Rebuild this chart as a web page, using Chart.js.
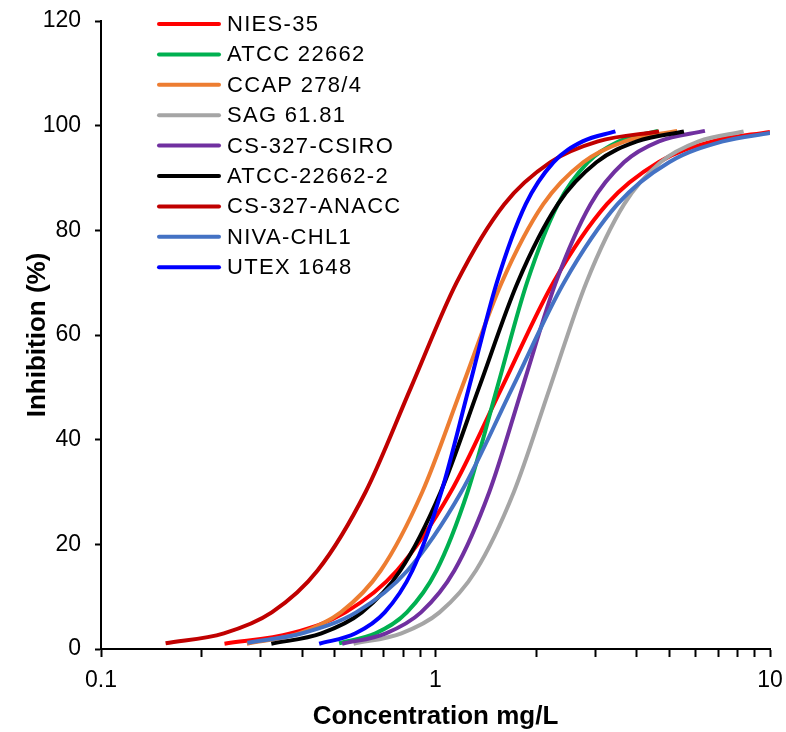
<!DOCTYPE html>
<html>
<head>
<meta charset="utf-8">
<title>Inhibition vs concentration</title>
<script src="https://cdn.jsdelivr.net/npm/chart.js@4.4.1/dist/chart.umd.min.js"></script>
<style>
  html, body { margin: 0; padding: 0; background: #fff; }
  #wrap { width: 786px; height: 732px; }
</style>
</head>
<body>
<div id="wrap"><canvas id="doseChart" width="786" height="732"></canvas></div>
<script>
// values (concentration in mg/L, inhibition in %)
const strainNames = ["NIES-35", "ATCC 22662", "CCAP 278/4", "SAG 61.81", "CS-327-CSIRO",
  "ATCC-22662-2", "CS-327-ANACC", "NIVA-CHL1", "UTEX 1648"];
const strainColors = ["#FF0000", "#00B050", "#ED7D31", "#A5A5A5", "#7030A0",
  "#000000", "#C00000", "#4472C4", "#0000FF"];

const niesX = [0.234, 0.371, 0.538, 0.767, 1.110, 1.58, 2.249, 3.254, 4.641, 6.724, 10];
const niesY = [1, 3, 7, 15, 30, 50, 70, 85, 93, 97, 98.8];

const atccX = [0.515, 0.662, 0.821, 1.007, 1.247, 1.53, 1.877, 2.324, 2.853, 3.535, 4.63];
const atccY = [1.1, 3, 7, 15, 30, 50, 70, 85, 93, 97, 99];

const ccapX = [0.273, 0.391, 0.521, 0.686, 0.913, 1.2, 1.577, 2.1, 2.763, 3.683, 5.28];
const ccapY = [1, 3, 7, 15, 30, 50, 70, 85, 93, 97, 99];

const sagX = [0.569, 0.791, 1.028, 1.321, 1.715, 2.2, 2.823, 3.665, 4.706, 6.116, 8.34];
const sagY = [1, 3, 7, 15, 30, 50, 70, 85, 93, 97, 98.9];

const csiroX = [0.526, 0.711, 0.905, 1.139, 1.448, 1.82, 2.288, 2.908, 3.660, 4.657, 6.39];
const csiroY = [1, 3, 7, 15, 30, 50, 70, 85, 93, 97, 99];

const atcc2X = [0.323, 0.456, 0.602, 0.785, 1.036, 1.35, 1.759, 2.322, 3.028, 4.0, 5.53];
const atcc2Y = [1, 3, 7, 15, 30, 50, 70, 85, 93, 97, 98.9];

const anaccX = [0.156, 0.233, 0.324, 0.444, 0.618, 0.845, 1.156, 1.606, 2.202, 3.061, 4.66];
const anaccY = [1.1, 3, 7, 15, 30, 50, 70, 85, 93, 97, 98.9];

const nivaX = [0.274, 0.400, 0.579, 0.825, 1.194, 1.70, 2.420, 3.501, 4.993, 7.235, 10];
const nivaY = [1.2, 3, 7, 15, 30, 50, 70, 85, 93, 97, 98.6];

const utexX = [0.449, 0.577, 0.705, 0.853, 1.041, 1.26, 1.525, 1.861, 2.252, 2.753, 3.45];
const utexY = [1, 3, 7, 15, 30, 50, 70, 85, 93, 97, 98.9];

const xTickValues = [0.1, 0.2, 0.3, 0.4, 0.5, 0.6, 0.7, 0.8, 0.9, 1, 2, 3, 4, 5, 6, 7, 8, 9, 10];
const xTickLabels = { 0.1: "0.1", 1: "1", 10: "10" };

const seriesX = [niesX, atccX, ccapX, sagX, csiroX, atcc2X, anaccX, nivaX, utexX];
const seriesY = [niesY, atccY, ccapY, sagY, csiroY, atcc2Y, anaccY, nivaY, utexY];

const FONT = "Arial, 'Liberation Sans', sans-serif";

const datasets = strainNames.map((name, i) => ({
  label: name,
  data: seriesX[i].map((x, k) => ({ x, y: seriesY[i][k] })),
  borderColor: strainColors[i],
  backgroundColor: strainColors[i],
  borderWidth: 4,
  pointRadius: 0,
  fill: false,
  cubicInterpolationMode: "monotone",
  // later strains sit on top, like the original
  order: strainNames.length - i,
}));

// legend drawn inside the plot, one column at top left
const innerLegend = {
  id: "innerLegend",
  afterDraw(chart) {
    const ctx = chart.ctx;
    ctx.save();
    ctx.font = "22px " + FONT;
    ctx.textBaseline = "middle";
    ctx.letterSpacing = "1.3px";
    chart.data.datasets.forEach((ds, i) => {
      const y = 24 + i * 30.4;
      ctx.strokeStyle = ds.borderColor;
      ctx.lineWidth = 4;
      ctx.lineCap = "round";
      ctx.beginPath();
      ctx.moveTo(159, y);
      ctx.lineTo(219, y);
      ctx.stroke();
      ctx.fillStyle = "#000";
      ctx.fillText(ds.label, 227, y + 1);
    });
    ctx.restore();
  },
};

const whiteBg = {
  id: "whiteBg",
  beforeDraw(chart) {
    const ctx = chart.ctx;
    ctx.save();
    ctx.fillStyle = "#fff";
    ctx.fillRect(0, 0, chart.width, chart.height);
    ctx.restore();
  },
};

new Chart(document.getElementById("doseChart").getContext("2d"), {
  type: "line",
  data: { datasets },
  plugins: [whiteBg, innerLegend],
  options: {
    responsive: false,
    animation: false,
    layout: { padding: { top: 21, right: 16, left: 0, bottom: 0 } },
    plugins: {
      legend: { display: false },
      tooltip: { enabled: false },
    },
    scales: {
      x: {
        type: "logarithmic",
        min: 0.1,
        max: 10,
        afterBuildTicks: (scale) => {
          scale.ticks = xTickValues.map((v) => ({ value: v }));
        },
        afterFit: (scale) => {
          scale.height = 83;
          scale.paddingLeft = 0;
          scale.paddingRight = 0;
        },
        ticks: {
          autoSkip: false,
          maxRotation: 0,
          padding: 10,
          color: "#000",
          font: { family: FONT, size: 23 },
          callback: (v) => xTickLabels[v] || "",
        },
        grid: {
          drawOnChartArea: false,
          drawTicks: true,
          tickLength: 8,
          tickWidth: 2,
          tickColor: "#000",
        },
        border: { color: "#000", width: 2 },
        title: {
          display: true,
          text: "Concentration mg/L",
          color: "#000",
          font: { family: FONT, size: 26, weight: "bold" },
          padding: { top: 0, bottom: 0 },
        },
      },
      y: {
        min: 0,
        max: 120,
        afterFit: (scale) => {
          scale.width = 101;
          scale.paddingTop = 0;
          scale.paddingBottom = 0;
        },
        ticks: {
          stepSize: 20,
          padding: 14,
          color: "#000",
          font: { family: FONT, size: 23 },
        },
        grid: {
          drawOnChartArea: false,
          drawTicks: true,
          tickLength: 6,
          tickWidth: 2,
          tickColor: "#000",
        },
        border: { color: "#000", width: 2 },
        title: {
          display: true,
          text: "Inhibition (%)",
          color: "#000",
          font: { family: FONT, size: 26, weight: "bold" },
          padding: { top: 22, bottom: 0 },
        },
      },
    },
  },
});
</script>
</body>
</html>
